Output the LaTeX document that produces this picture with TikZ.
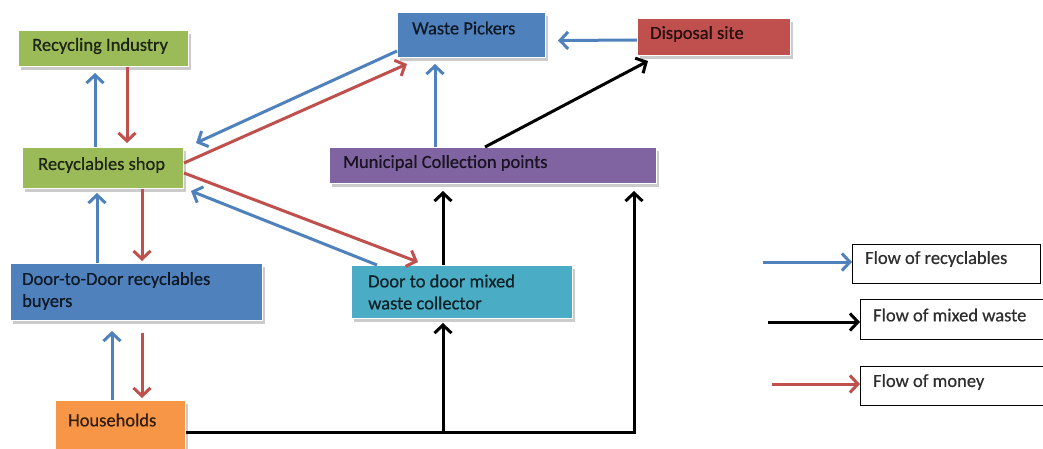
\documentclass[tikz,border=0pt]{standalone}
\usepackage{fontspec}
\setmainfont{Carlito}
\newfontfamily\lblfont{Carlito}[FakeBold=0.5]
\usetikzlibrary{arrows.meta,shadows}
\definecolor{cgreen}{HTML}{9BBB59}
\definecolor{cblue}{HTML}{4F81BD}
\definecolor{cred}{HTML}{C0504D}
\definecolor{cpurple}{HTML}{8064A2}
\definecolor{caqua}{HTML}{4BACC6}
\definecolor{corange}{HTML}{F79646}
\definecolor{ablue}{HTML}{4F81BD}
\definecolor{ared}{HTML}{C0504D}
\tikzset{
  box/.style={draw=white, line width=1pt, anchor=north west, inner sep=0pt,
    drop shadow={shadow xshift=2pt, shadow yshift=-3pt, fill=black!45, opacity=0.45}},
  lbl/.style={font=\lblfont\fontsize{18.5}{22}\selectfont, text=black, text opacity=0.78, anchor=west, inner sep=0pt, align=left},
  legbox/.style={draw=black, line width=0.9pt, fill=white, anchor=north west, inner sep=0pt},
  leglbl/.style={font=\lblfont\fontsize{18.5}{22}\selectfont, text=black!82, anchor=west, inner sep=0pt},
  flow/.style={line width=3pt, -{Straight Barb[length=8pt,width=17pt,line width=3pt]}},
  fb/.style={flow, draw=ablue},
  fr/.style={flow, draw=ared},
  fk/.style={flow, draw=black},
}
\begin{document}
\begin{tikzpicture}[x=1pt,y=-1pt]
\useasboundingbox (0,0) rectangle (1043,448);
\fill[white] (0,0) rectangle (1043,448);
% boxes
\node[box, fill=cgreen, minimum width=170pt, minimum height=36pt] (ri) at (18,30) {};
\node[box, fill=cgreen, minimum width=161pt, minimum height=41pt] (rs) at (22,147) {};
\node[box, fill=cblue, minimum width=148pt, minimum height=45pt] (wp) at (397,12) {};
\node[box, fill=cred, minimum width=153pt, minimum height=37pt] (ds) at (637,18) {};
\node[box, fill=cpurple, minimum width=327pt, minimum height=36pt] (mc) at (329,147) {};
\node[box, fill=cblue, minimum width=252pt, minimum height=57pt] (db) at (10,263) {};
\node[box, fill=caqua, minimum width=221pt, minimum height=53pt] (dm) at (351,265) {};
\node[box, fill=corange, minimum width=130pt, minimum height=56pt] (hh) at (55,400) {};
% texts
\node[lbl] (rit) at (32,46) {Recycling Industry};
\node[lbl] (rst) at (38,165) {Recyclables shop};
\node[lbl] (wpt) at (412,28) {Waste Pickers};
\node[lbl] (dst) at (650,34) {Disposal site};
\node[lbl] (mct) at (343,163) {Municipal Collection points};
\node[lbl] (dbt1) at (22,280) {Door-to-Door recyclables};
\node[lbl] (dbt2) at (22,302) {buyers};
\node[lbl] (dmt1) at (368,281) {Door to door mixed};
\node[lbl] (dmt2) at (368,303) {waste collector};
\node[lbl] (hht) at (68,420) {Households};
% legend
\node[legbox, minimum width=188pt, minimum height=39pt] (l1) at (852,244) {};
\node[legbox, minimum width=200pt, minimum height=40pt] (l2) at (860,299) {};
\node[legbox, minimum width=200pt, minimum height=39pt] (l3) at (860,366) {};
\node[leglbl] (l1t) at (865,259) {Flow of recyclables};
\node[leglbl] (l2t) at (873,315) {Flow of mixed waste};
\node[leglbl] (l3t) at (873,382) {Flow of money};
\coordinate (s1) at (763,262);
\coordinate (s2) at (768,322);
\coordinate (s3) at (772,384);
\draw[fb] (s1) -- (s1 -| l1.west);
\draw[fk] (s2) -- (s2 -| l2.west);
\draw[fr] (s3) -- (s3 -| l3.west);
% flows
\draw[fb] ([xshift=73pt]rs.north west) -- ([xshift=77pt,yshift=-6pt]ri.south west);
\draw[fr] ([xshift=109pt]ri.south west) -- ([xshift=105pt,yshift=4pt]rs.north west);
\draw[fb] ([yshift=7pt]wp.south west) -- ([xshift=12pt,yshift=4pt]rs.north east);
\draw[fr] ([yshift=26pt]rs.south east) -- ([xshift=10pt,yshift=-6pt]wp.south west);
\draw[fr] ([yshift=16pt]rs.south east) -- ([xshift=67pt,yshift=3pt]dm.north west);
\draw[fb] ([xshift=26pt]dm.north west) -- ([xshift=7pt,yshift=-2pt]rs.south east);
\draw[fb] ([xshift=87pt]db.north west) -- ([xshift=75pt,yshift=-4pt]rs.south west);
\draw[fr] ([xshift=120pt]rs.south west) -- ([xshift=132pt,yshift=2pt]db.north west);
\draw[fb] ([xshift=57pt]hh.north west) -- ([xshift=102pt,yshift=-10pt]db.south west);
\draw[fr] ([xshift=132pt,yshift=-12pt]db.south west) -- ([xshift=87pt,yshift=2pt]hh.north west);
\coordinate (j1) at (443,432);
\draw[fk] ([yshift=-32pt]hh.north east) -- (j1) -| ([xshift=-23pt,yshift=-7pt]mc.south east);
\draw[fk] (j1) -- ([xshift=92pt,yshift=-4pt]dm.south west);
\draw[fk] ([xshift=92pt]dm.north west) -- ([xshift=114pt,yshift=-7pt]mc.south west);
\draw[fb] ([xshift=106pt]mc.north west) -- ([xshift=38pt,yshift=-6pt]wp.south west);
\draw[fk] ([xshift=156pt]mc.north west) -- ([xshift=11pt,yshift=-5pt]ds.south west);
\draw[fb] ([yshift=-22pt]ds.north west) -- ([xshift=12pt,yshift=-5.5pt]wp.east);
\end{tikzpicture}
\end{document}
